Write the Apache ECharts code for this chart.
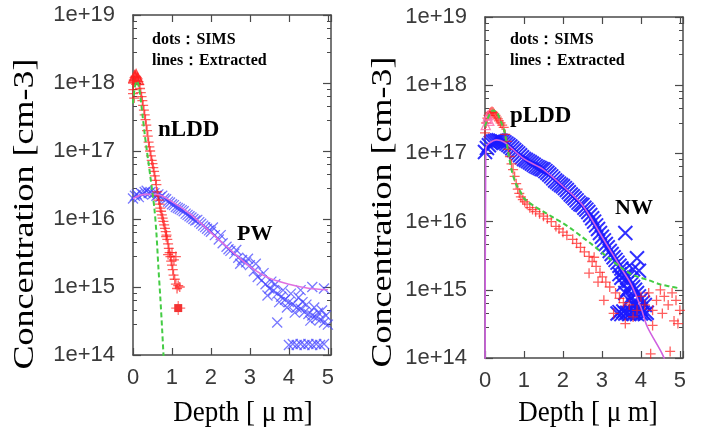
<!DOCTYPE html>
<html><head><meta charset="utf-8">
<script src="https://cdn.jsdelivr.net/npm/echarts@6/dist/echarts.min.js"></script>
<style>html,body{margin:0;padding:0;background:#fff}#c{width:704px;height:433px}</style>
</head><body><div id="c"></div>
<script>
// ---------- tick labels ----------
const xTickLabels = ['0','1','2','3','4','5'];
const yTickLabels = ['1e+14','1e+15','1e+16','1e+17','1e+18','1e+19'];

// ---------- LEFT PANEL: nLDD / PW ----------
const nlddSimsDepth = [0,0,0.01,0.02,0.03,0.04,0.06,0.08,0.1,0.12,0.14,0.16,0.18,0.2,0.22,0.24,0.26,0.28,0.3,0.32,0.34,0.36,0.38,0.4,0.42,0.44,0.46,0.48,0.5,0.52,0.54,0.56,0.58,0.6,0.62,0.64,0.66,0.68,0.7,0.72,0.74,0.76,0.78,0.8,0.82,0.84,0.86,0.88,0.9,0.92,0.94,0.96,0.98,1.0,1.02,1.04,1.07,1.1,1.13,1.16,1.2,0.85,0.9,1.0,1.05,1.1];
const nlddSimsConc = [1.0e18,7e17,8e17,1.1e18,6e17,1.2e18,1.25e18,1.25e18,1.2e18,1.15e18,1.05e18,9.5e17,8.3e17,7.2e17,6.3e17,5.5e17,4.7e17,4.0e17,3.4e17,2.9e17,2.4e17,2.0e17,1.65e17,1.35e17,1.15e17,1.0e17,8.5e16,7.3e16,6.5e16,5.7e16,5.0e16,4.3e16,3.7e16,3.2e16,2.5e16,2.2e16,1.9e16,1.65e16,1.45e16,1.3e16,1.15e16,1.03e16,9.2e15,8.2e15,7.3e15,6.5e15,5.8e15,5.0e15,4.3e15,3.7e15,3.2e15,2.8e15,2.4e15,2.1e15,1.8e15,1.5e15,1.3e15,1.1e15,9.5e14,1.05e15,1.0e15,5.5e15,3e15,3.2e15,2.5e15,2.8e15];
const nlddPeakDepth = [0.04,0.08,0.12];
const nlddPeakConc = [1.25e18,1.3e18,1.15e18];
const nlddFloorDepth = [1.16];
const nlddFloorConc = [4.9e14];
const nlddLineDepth = [0,0.05,0.1,0.15,0.2,0.25,0.3,0.35,0.4,0.45,0.5,0.55,0.6,0.65,0.7,0.75,0.8];
const nlddLineConc = [5e17,8.9e17,1.07e18,8.9e17,5.6e17,3.16e17,1.78e17,1.07e17,6.6e16,4.0e16,2.4e16,1.41e16,6.3e15,2.0e15,7.1e14,2.24e14,6.3e13];

const pwSimsDepth = [0,0.05,0.1,0.15,0.2,0.25,0.3,0.35,0.4,0.45,0.5,0.55,0.6,0.65,0.7,0.75,0.8,0.85,0.9,0.95,1.0,1.05,1.1,1.15,1.2,1.25,1.3,1.35,1.4,1.45,1.5,1.55,1.6,1.65,1.7,1.75,1.8,1.85,1.9,1.95,2.0,2.1,2.2,2.3,2.4,2.5,2.6,2.7,2.8,2.9,3.0,3.1,3.2,3.3,3.4,3.5,3.6,3.7,3.8,3.9,4.0,4.1,4.2,4.3,4.4,4.5,4.6,4.7,4.8,4.9,5.0,
  2.05,2.25,2.45,2.65,2.75,2.95,3.15,3.35,3.55,3.45,3.65,3.75,3.85,3.95,4.05,4.15,4.25,4.35,4.45,4.55,4.65,4.75,4.85,4.95,3.7,4.3,4.6,4.9,
  4.0,4.1,4.2,4.3,4.4,4.5,4.6,4.7,4.8,4.9];
const pwSimsConc = [2.0e16,2.2e16,2.3e16,2.1e16,2.4e16,2.3e16,2.5e16,2.6e16,2.4e16,2.5e16,2.3e16,2.4e16,2.2e16,2.3e16,2.1e16,2.2e16,2.0e16,1.95e16,1.8e16,1.75e16,1.65e16,1.6e16,1.5e16,1.45e16,1.4e16,1.35e16,1.3e16,1.2e16,1.15e16,1.1e16,1.05e16,1.0e16,9.5e15,9.7e15,9.0e15,8.5e15,8.0e15,7.6e15,7.2e15,6.8e15,6.5e15,5.8e15,5.0e15,4.4e15,3.9e15,3.4e15,3.1e15,2.7e15,2.5e15,2.3e15,2.1e15,1.7e15,1.4e15,1.25e15,1.1e15,9.5e14,8.8e14,8.0e14,7.2e14,6.5e14,6.0e14,5.6e14,5.0e14,4.8e14,4.3e14,4.0e14,3.8e14,3.5e14,3.3e14,3.0e14,2.8e14,
  7.5e15,5.8e15,3.6e15,3.5e15,2.2e15,2.6e15,2.2e15,1.6e15,1.2e15,7.5e14,1.1e15,6e14,9e14,5e14,8e14,4.2e14,7e14,6e14,5.5e14,3.2e14,5e14,4.2e14,4.5e14,3.8e14,3e14,9e14,1e15,9.5e14,
  1.4e14,1.45e14,1.4e14,1.45e14,1.4e14,1.45e14,1.4e14,1.45e14,1.4e14,1.45e14];
const pwLineDepth = [0,0.3,0.6,1.0,1.5,2.0,2.5,3.0,3.5,4.0,4.5,5.0];
const pwLineConc = [2.0e16,2.3e16,2.3e16,1.8e16,1.15e16,6.3e15,3.5e15,2.0e15,1.35e15,1.1e15,9.6e14,9.1e14];

// ---------- RIGHT PANEL: pLDD / NW ----------
const plddSimsDepth = [0,0.03,0.06,0.09,0.12,0.15,0.18,0.21,0.24,0.27,0.3,0.33,0.36,0.4,0.44,0.48,0.52,0.56,0.6,0.64,0.68,0.72,0.76,0.8,0.84,0.88,0.92,0.97,1.02,1.08,1.15,1.22,1.3,1.4,1.5,1.6,1.7,1.82,1.9,2.0,2.1,2.25,2.35,2.45,2.55,2.67,2.75,2.85,2.95,3.01,3.1,3.2,3.35,3.45,3.55,
  2.67,2.8,2.9,3.05,3.6,3.3,3.7,3.8,3.9,4.0,4.1,4.2,4.3,4.4,4.5,4.55,4.6,4.7,4.8,4.85,4.9,5.0,4.25,4.75,4.3,4.95];
const plddSimsConc = [2.0e17,2.8e17,3.3e17,3.6e17,3.9e17,4.0e17,4.1e17,4.0e17,3.8e17,3.6e17,3.4e17,3.2e17,3.0e17,2.8e17,2.6e17,2.4e17,1.9e17,1.5e17,1.15e17,9e16,7e16,5.8e16,4.6e16,3.6e16,3.0e16,2.6e16,2.3e16,2.1e16,1.95e16,1.8e16,1.6e16,1.5e16,1.4e16,1.3e16,1.2e16,1.1e16,1.0e16,8.5e15,7.8e15,7.0e15,6.3e15,5.5e15,4.8e15,4.2e15,3.6e15,3.1e15,2.6e15,2.2e15,1.8e15,1.55e15,1.3e15,1.1e15,9e14,7.5e14,6.5e14,
  1.75e15,3e15,1.3e15,7e14,3.2e14,4.5e14,6e14,4e14,5e14,8e14,6e14,9e14,5e14,7e14,1e15,4.5e14,8e14,6e14,9e14,3.5e14,7e14,5e14,1.15e14,1.25e14,3e14,3.2e14];
const plddPeakDepth = [0.02,0.05,0.08,0.11];
const plddPeakConc = [2.6e17,3.2e17,3.6e17,3.0e17];
const plddLineDepth = [0,0.1,0.2,0.3,0.4,0.5,0.6,0.7,0.8,0.9,1.0,1.25,1.5,1.75,2.0,2.25,2.5,2.75,3.0,3.25,3.5,3.75,4.0,4.2,4.5,4.75,5.0];
const plddLineConc = [2.5e17,3.55e17,4.27e17,4.0e17,3.0e17,2.1e17,1.0e17,5.2e16,3.5e16,2.8e16,2.2e16,1.7e16,1.4e16,1.15e16,9.5e15,7.6e15,5.9e15,4.6e15,3.5e15,2.7e15,2.1e15,1.7e15,1.5e15,1.38e15,1.2e15,1.12e15,1.05e15];

const nwSimsDepth = [0,0.05,0.1,0.15,0.2,0.25,0.3,0.35,0.4,0.45,0.5,0.55,0.6,0.65,0.7,0.75,0.8,0.85,0.9,0.95,1.0,1.05,1.1,1.15,1.2,1.25,1.3,1.35,1.4,1.45,1.5,1.55,1.6,1.65,1.7,1.75,1.8,1.85,1.9,1.95,2.0,2.05,2.1,2.15,2.2,2.25,2.3,2.35,2.4,2.45,2.5,2.55,2.6,2.65,2.7,2.75,2.8,2.85,2.9,2.95,3.0,3.05,3.1,3.15,3.2,3.25,3.3,3.35,3.4,3.45,3.5,3.55,3.6,3.65,3.7,3.75,3.8,3.85,3.9,3.95,4.0,4.05,4.1,
  3.4,3.45,3.5,3.55,3.6,3.65,3.7,3.75,3.8,3.85,3.9,3.95,4.0,4.05,4.1,4.15,
  3.6,3.7,3.8,3.9,3.55,3.65,3.75,3.85,3.95,4.0,3.5,3.45,3.9,3.6,3.8,3.95];
const nwSimsConc = [1.05e17,1.2e17,1.32e17,1.42e17,1.48e17,1.52e17,1.55e17,1.56e17,1.54e17,1.5e17,1.45e17,1.39e17,1.33e17,1.26e17,1.19e17,1.12e17,1.06e17,1.0e17,9.4e16,8.8e16,8.3e16,8.0e16,7.7e16,7.4e16,7.1e16,6.8e16,6.5e16,6.3e16,6.1e16,5.9e16,5.8e16,5.5e16,5.2e16,4.9e16,4.6e16,4.3e16,4.0e16,3.8e16,3.6e16,3.45e16,3.3e16,3.1e16,2.9e16,2.7e16,2.5e16,2.35e16,2.2e16,2.05e16,1.9e16,1.8e16,1.75e16,1.6e16,1.5e16,1.38e16,1.25e16,1.12e16,1.0e16,8.8e15,7.8e15,6.8e15,6.0e15,5.3e15,4.7e15,4.2e15,3.7e15,3.35e15,3.0e15,2.75e15,2.5e15,2.25e15,2.05e15,1.85e15,1.65e15,1.5e15,1.35e15,1.2e15,1.1e15,1.0e15,9e14,8.0e14,7.2e14,6.5e14,6.0e14,
  4.5e14,4.7e14,4.4e14,4.8e14,4.5e14,4.6e14,4.4e14,4.7e14,4.5e14,4.6e14,4.4e14,4.7e14,4.5e14,4.6e14,4.4e14,4.6e14,
  9e14,7e14,6e14,5.5e14,1.2e15,1e15,8e14,6.5e14,5.5e14,5.2e14,1.5e15,1.7e15,2.9e15,6.8e15,2e15,1.9e15];
const nwLineDepth = [0,0.02,0.1,0.3,0.5,1.0,1.5,2.0,2.5,3.0,3.5,3.75,4.0,4.16,4.54,4.7];
const nwLineConc = [1e13,1.2e17,1.4e17,1.58e17,1.45e17,8.3e16,5.8e16,3.3e16,1.75e16,6.0e15,2.05e15,1.2e15,5.5e14,2.9e14,1.17e14,7e13];

// ---------- helpers ----------
const pairs = (xs, ys) => xs.map((x, i) => [x, ys[i]]);
const PLUS = 'path://M0,5L10,5M5,0L5,10';
const CROSS = 'path://M0,0L10,10M10,0L0,10';
const FRAME = '#4a4a4a';
const sansFont = '"Liberation Sans", Arial, Helvetica, sans-serif';
const serifFont = '"Liberation Serif", "Times New Roman", Times, serif';

function xAxes(gridIndex, bottom) {
  return {
    type: 'value', gridIndex, min: 0, max: 5.08, interval: 1,
    position: bottom ? 'bottom' : 'top',
    axisLine: { show: true, onZero: false, lineStyle: { color: FRAME, width: 1.5 } },
    axisTick: { show: true, inside: true, length: 7, lineStyle: { color: FRAME, width: 1.2 } },
    axisLabel: {
      show: bottom, margin: 12, fontSize: 22, fontFamily: sansFont, color: '#3a3a3a',
      formatter: v => (Number.isInteger(v) ? xTickLabels[v] : '')
    },
    splitLine: { show: false }
  };
}
function yAxes(gridIndex, left) {
  return {
    type: 'log', logBase: 10, gridIndex, min: 1e14, max: 1e19, splitNumber: 5,
    position: left ? 'left' : 'right',
    axisLine: { show: true, onZero: false, lineStyle: { color: FRAME, width: 1.5 } },
    axisTick: { show: true, inside: true, length: 8, lineStyle: { color: FRAME, width: 1.2 } },
    minorTick: { show: true, splitNumber: 5, length: 4, lineStyle: { color: FRAME, width: 1 } },
    axisLabel: {
      show: left, margin: 18, fontSize: 22, fontFamily: sansFont, color: '#3a3a3a',
      formatter: v => yTickLabels[Math.round(Math.log10(v)) - 14]
    },
    splitLine: { show: false }
  };
}
function simsSeries(name, xi, data, symbol, color, size, opacity, bw) {
  return {
    name, type: 'scatter', xAxisIndex: xi, yAxisIndex: xi, data, symbol, symbolSize: size,
    itemStyle: { color: 'none', borderColor: color, borderWidth: bw, opacity },
    emphasis: { disabled: true }, silent: true, clip: true
  };
}
function lineSeries(name, xi, data, color, width, type) {
  return {
    name, type: 'line', xAxisIndex: xi, yAxisIndex: xi, data, showSymbol: false, smooth: 0.3,
    lineStyle: { color, width, type }, clip: true, silent: true
  };
}

const chart = echarts.init(document.getElementById('c'), null, { renderer: 'canvas' });
const annFont = { fontFamily: serifFont, fontWeight: 'bold', fill: '#000' };
chart.setOption({
  animation: false,
  backgroundColor: '#fff',
  grid: [
    { left: 133, top: 15, width: 198, height: 340 },
    { left: 485, top: 17, width: 198, height: 341 }
  ],
  xAxis: [xAxes(0, true), xAxes(0, false), xAxes(1, true), xAxes(1, false)],
  yAxis: [yAxes(0, true), yAxes(0, false), yAxes(1, true), yAxes(1, false)],
  series: [
    lineSeries('PW extracted', 0, pairs(pwLineDepth, pwLineConc), '#e070e0', 1.6, 'solid'),
    simsSeries('PW SIMS', 0, pairs(pwSimsDepth, pwSimsConc), CROSS, '#4040ff', 10, 0.7, 1.3),
    simsSeries('nLDD SIMS', 0, pairs(nlddSimsDepth, nlddSimsConc), PLUS, '#ff1a1a', 10, 0.7, 1.3),
    { name: 'nLDD SIMS floor', type: 'scatter', xAxisIndex: 0, yAxisIndex: 0, data: pairs(nlddFloorDepth, nlddFloorConc),
      symbol: 'rect', symbolSize: 8, itemStyle: { color: '#ee0000' }, silent: true },
    simsSeries('nLDD SIMS floor+', 0, pairs(nlddFloorDepth, nlddFloorConc), PLUS, '#ff3030', 14, 0.7, 1.2),
    simsSeries('nLDD peak', 0, pairs(nlddPeakDepth, nlddPeakConc), 'triangle', '#ff2020', 11, 0.8, 1.5),
    lineSeries('nLDD extracted', 0, pairs(nlddLineDepth, nlddLineConc), '#44cc44', 2, [5, 3]),

    lineSeries('NW extracted', 2, pairs(nwLineDepth, nwLineConc), '#d060e0', 1.6, 'solid'),
    simsSeries('NW SIMS', 2, pairs(nwSimsDepth, nwSimsConc), CROSS, '#1a1aff', 14, 0.9, 2),
    simsSeries('pLDD SIMS', 2, pairs(plddSimsDepth, plddSimsConc), PLUS, '#ff1a1a', 10, 0.7, 1.3),
    simsSeries('pLDD peak', 2, pairs(plddPeakDepth, plddPeakConc), 'triangle', '#ff66aa', 9, 0.8, 1.3),
    lineSeries('pLDD extracted', 2, pairs(plddLineDepth, plddLineConc), '#44cc44', 2, [5, 3])
  ],
  graphic: [
    { type: 'text', x: 25, y: 214, rotation: Math.PI / 2, scaleY: 0.8, silent: true,
      style: { text: 'Concentration [cm-3]', fontFamily: serifFont, fontSize: 36, fill: '#000', align: 'center', verticalAlign: 'middle' } },
    { type: 'text', x: 383, y: 212, rotation: Math.PI / 2, scaleY: 0.8, silent: true,
      style: { text: 'Concentration [cm-3]', fontFamily: serifFont, fontSize: 36, fill: '#000', align: 'center', verticalAlign: 'middle' } },
    { type: 'text', x: 243, y: 413, scaleX: 0.9, silent: true,
      style: { text: 'Depth [ μ m]', fontFamily: serifFont, fontSize: 30, fill: '#000', align: 'center', verticalAlign: 'middle' } },
    { type: 'text', x: 588, y: 413, scaleX: 0.9, silent: true,
      style: { text: 'Depth [ μ m]', fontFamily: serifFont, fontSize: 30, fill: '#000', align: 'center', verticalAlign: 'middle' } },
    { type: 'text', x: 152, y: 40, silent: true, style: Object.assign({ text: 'dots：SIMS', fontSize: 16, align: 'left', verticalAlign: 'middle' }, annFont) },
    { type: 'text', x: 152, y: 61, silent: true, style: Object.assign({ text: 'lines：Extracted', fontSize: 16, align: 'left', verticalAlign: 'middle' }, annFont) },
    { type: 'text', x: 510, y: 40, silent: true, style: Object.assign({ text: 'dots：SIMS', fontSize: 16, align: 'left', verticalAlign: 'middle' }, annFont) },
    { type: 'text', x: 510, y: 61, silent: true, style: Object.assign({ text: 'lines：Extracted', fontSize: 16, align: 'left', verticalAlign: 'middle' }, annFont) },
    { type: 'text', x: 158, y: 130, silent: true, style: Object.assign({ text: 'nLDD', fontSize: 23, align: 'left', verticalAlign: 'middle' }, annFont) },
    { type: 'text', x: 237, y: 234, silent: true, style: Object.assign({ text: 'PW', fontSize: 22, align: 'left', verticalAlign: 'middle' }, annFont) },
    { type: 'text', x: 510, y: 116, silent: true, style: Object.assign({ text: 'pLDD', fontSize: 23, align: 'left', verticalAlign: 'middle' }, annFont) },
    { type: 'text', x: 615, y: 208, silent: true, style: Object.assign({ text: 'NW', fontSize: 22, align: 'left', verticalAlign: 'middle' }, annFont) }
  ]
});
</script></body></html>
